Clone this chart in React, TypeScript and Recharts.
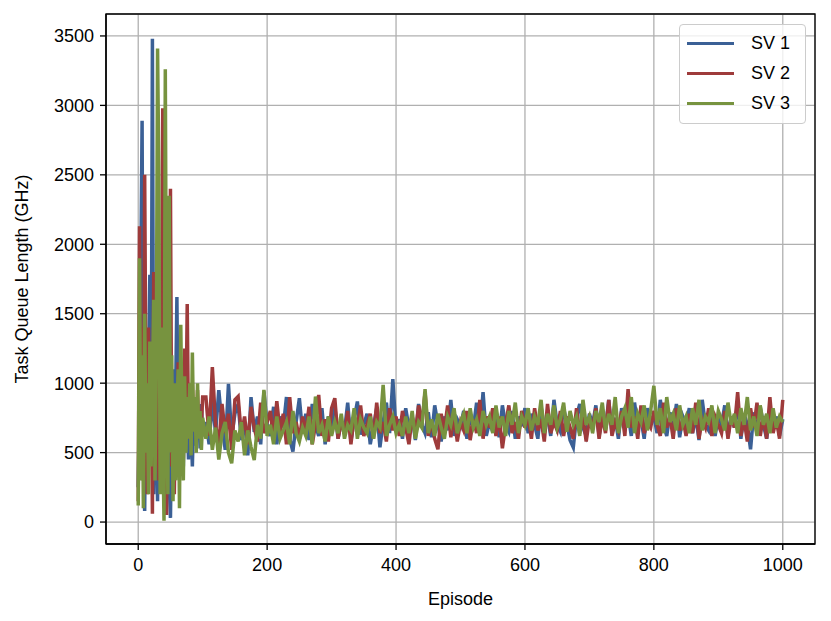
import { LineChart, Line, XAxis, YAxis, CartesianGrid, ReferenceArea } from 'recharts'

// episodes 0..100 sampled every 2, then 105..1000 every 5
const earlyEpisodes = Array.from({ length: 51 }, (_, i) => i * 2)
const lateEpisodes = Array.from({ length: 180 }, (_, i) => 105 + i * 5)
const episodes = [...earlyEpisodes, ...lateEpisodes]

const xTicks = [0, 200, 400, 600, 800, 1000]
const yTicks = [0, 500, 1000, 1500, 2000, 2500, 3000, 3500]

const sv1Early = [
  250, 900, 1800, 2890, 400, 80, 1200, 300, 1100, 1780,
  600, 3480, 200, 1500, 700, 150, 1300, 500, 900, 250,
  1200, 100, 800, 1300, 300, 30, 700, 1100, 400, 900,
  1620, 500, 1200, 350, 900, 400, 1100, 600, 850, 450,
  950, 700, 400, 800, 550, 900, 650, 780, 530, 850,
  620,
]
const sv2Early = [
  150, 2130, 600, 1400, 300, 2500, 900, 200, 1400, 500,
  1100, 60, 1800, 400, 1000, 2000, 300, 1500, 700, 2980,
  200, 1300, 50, 1700, 600, 2400, 400, 1000, 200, 900,
  500, 1150, 350, 800, 1000, 450, 1250, 700, 1570, 600,
  900, 550, 1000, 700, 850, 600, 950, 650, 800, 700,
  900,
]
const sv3Early = [
  120, 1900, 300, 1200, 100, 1500, 500, 1000, 200, 1300,
  400, 900, 1600, 300, 1100, 3410, 2500, 200, 1400, 600,
  10, 3260, 900, 200, 2350, 500, 1200, 150, 1000, 300,
  800, 1100, 100, 1420, 700, 300, 1050, 500, 900, 600,
  1000, 480, 1220, 650, 900, 500, 1000, 600, 800, 520,
  750,
]

const sv1Late = [
  720, 560, 880, 640, 950, 700, 520, 995, 610, 780,
  850, 590, 720, 480, 900, 650, 760, 560, 940, 700,
  620, 830, 560, 760, 680, 900, 600, 507, 720, 892,
  640, 780, 590, 850, 700, 620, 820, 560, 760, 680,
  830, 600, 720, 650, 860, 580, 740, 868, 630, 700,
  780, 560, 690, 820, 538, 720, 860, 640, 1029, 650,
  740, 600, 820, 680, 760, 590, 850, 700, 640, 790,
  610, 840, 700, 580, 760, 660, 880, 620, 740, 690,
  800, 600, 760, 680, 860, 640, 935, 620, 720, 650,
  780, 610, 840, 700, 650, 800, 600, 760, 690, 820,
  640, 780, 700, 600, 830, 680, 760, 620, 880, 700,
  650, 820, 710, 590, 538, 760, 850, 680, 620, 780,
  700, 840, 620, 760, 680, 880, 640, 750, 600, 820,
  700, 780, 620, 860, 690, 740, 600, 820, 710, 760,
  640, 880, 700, 620, 790, 680, 850, 610, 760, 700,
  820, 640, 760, 590, 880, 700, 660, 800, 620, 760,
  700, 840, 620, 760, 680, 860, 600, 780, 700, 524,
  790, 640, 830, 700, 600, 800, 680, 760, 620, 740,
]
const sv2Late = [
  900, 620, 1115, 700, 560, 850, 640, 780, 520, 880,
  904, 620, 760, 560, 830, 680, 580, 860, 640, 720,
  800, 600, 870, 650, 780, 560, 899, 640, 720, 600,
  760, 640, 830, 560, 700, 916, 620, 740, 580, 820,
  892, 600, 720, 640, 800, 560, 760, 680, 840, 620,
  700, 780, 600, 860, 640, 720, 580, 820, 660, 760,
  620, 800, 680, 560, 760, 640, 840, 700, 935, 620,
  720, 600, 524, 780, 660, 840, 610, 760, 580, 720,
  660, 800, 590, 740, 640, 880, 600, 760, 680, 820,
  620, 760, 531, 700, 840, 640, 720, 600, 800, 680,
  760, 600, 820, 660, 740, 580, 850, 640, 720, 660,
  800, 620, 760, 680, 600, 820, 640, 760, 580, 740,
  680, 820, 600, 760, 640, 880, 620, 720, 660, 800,
  620, 957, 680, 760, 600, 840, 640, 720, 680, 800,
  700, 620, 860, 680, 760, 600, 820, 660, 740, 620,
  780, 640, 860, 600, 740, 680, 820, 620, 760, 700,
  640, 800, 600, 760, 680, 935, 620, 740, 580, 820,
  680, 860, 620, 760, 600, 900, 640, 740, 600, 880,
]
const sv3Late = [
  600, 760, 520, 680, 450, 640, 720, 500, 423, 660,
  580, 720, 480, 660, 540, 447, 700, 600, 952, 620,
  700, 560, 760, 600, 660, 720, 560, 800, 640, 580,
  680, 620, 760, 560, 904, 640, 700, 580, 760, 620,
  720, 640, 780, 600, 700, 660, 820, 600, 740, 680,
  640, 760, 600, 720, 680, 988, 620, 700, 760, 640,
  700, 620, 760, 640, 800, 600, 720, 680, 957, 640,
  740, 620, 780, 680, 600, 760, 700, 820, 640, 720,
  780, 640, 820, 680, 740, 620, 800, 700, 760, 640,
  840, 680, 760, 620, 800, 700, 860, 640, 760, 700,
  820, 660, 760, 700, 880, 640, 780, 700, 840, 680,
  740, 860, 650, 800, 700, 760, 620, 880, 700, 760,
  640, 800, 720, 860, 660, 780, 700, 900, 640, 760,
  820, 680, 900, 640, 780, 720, 840, 660, 800, 981,
  700, 820, 640, 900, 720, 780, 660, 840, 700, 760,
  640, 820, 700, 880, 660, 760, 720, 840, 640, 800,
  740, 660, 860, 700, 780, 640, 820, 700, 900, 660,
  760, 620, 840, 700, 780, 640, 820, 680, 760, 720,
]

const sv1 = [...sv1Early, ...sv1Late]
const sv2 = [...sv2Early, ...sv2Late]
const sv3 = [...sv3Early, ...sv3Late]

const series = [
  { key: 'sv1', name: 'SV 1', color: '#3b6096' },
  { key: 'sv2', name: 'SV 2', color: '#9e3b3b' },
  { key: 'sv3', name: 'SV 3', color: '#77933f' },
]

const data = episodes.map((episode, i) => ({
  episode,
  sv1: sv1[i],
  sv2: sv2[i],
  sv3: sv3[i],
}))

const FONT = '"Liberation Sans", Arial, sans-serif'
const X_DOMAIN = [-50, 1050]
const Y_DOMAIN = [-158, 3658]

// legend drawn as a plain overlay so it doesn't eat chart space
const LegendBox = () => (
  <div
    style={{
      position: 'absolute',
      left: 679,
      top: 24,
      width: 127,
      height: 100,
      border: '1px solid #cccccc',
      borderRadius: 4,
      background: 'rgba(255,255,255,0.8)',
      boxSizing: 'border-box',
      padding: '3px 0 0 7px',
      fontFamily: FONT,
      fontSize: 18,
      color: '#000',
    }}
  >
    {series.map((s) => (
      <div key={s.key} style={{ display: 'flex', alignItems: 'center', height: 30 }}>
        <span style={{ display: 'inline-block', width: 47, height: 3, background: s.color, marginRight: 17 }} />
        <span>{s.name}</span>
      </div>
    ))}
  </div>
)

const YLabel = ({ viewBox }: any) => {
  const cx = viewBox.x + 22
  const cy = viewBox.y + viewBox.height / 2
  return (
    <text
      x={cx}
      y={cy}
      transform={`rotate(-90 ${cx} ${cy})`}
      textAnchor="middle"
      dominantBaseline="central"
      fontFamily={FONT}
      fontSize={18}
      fill="#000"
    >
      Task Queue Length (GHz)
    </text>
  )
}

export default function App() {
  return (
    <div style={{ position: 'absolute', left: 0, top: 0, width: 831, height: 621, background: '#fff' }}>
      <LineChart width={831} height={621} data={data} margin={{ top: 14, right: 16, bottom: 0, left: 0 }}>
        <CartesianGrid stroke="#b0b0b0" strokeWidth={1.3} />
        <XAxis
          dataKey="episode"
          type="number"
          domain={X_DOMAIN}
          ticks={xTicks}
          allowDataOverflow
          height={77}
          tickSize={6}
          tickMargin={8}
          axisLine={{ stroke: '#000', strokeWidth: 1.3 }}
          tickLine={{ stroke: '#000', strokeWidth: 1.3 }}
          tick={{ fill: '#000', fontSize: 18, fontFamily: FONT }}
          label={{ value: 'Episode', position: 'insideBottom', offset: 16, fill: '#000', fontSize: 18, fontFamily: FONT }}
        />
        <YAxis
          type="number"
          domain={Y_DOMAIN}
          ticks={yTicks}
          allowDataOverflow
          width={106}
          tickSize={6}
          tickMargin={6}
          axisLine={{ stroke: '#000', strokeWidth: 1.3 }}
          tickLine={{ stroke: '#000', strokeWidth: 1.3 }}
          tick={{ fill: '#000', fontSize: 18, fontFamily: FONT }}
          label={<YLabel />}
        />
        {series.map((s) => (
          <Line
            key={s.key}
            type="linear"
            dataKey={s.key}
            name={s.name}
            stroke={s.color}
            strokeWidth={3.5}
            dot={false}
            isAnimationActive={false}
          />
        ))}
        <ReferenceArea
          x1={X_DOMAIN[0]}
          x2={X_DOMAIN[1]}
          y1={Y_DOMAIN[0]}
          y2={Y_DOMAIN[1]}
          fill="none"
          stroke="#000"
          strokeWidth={1.3}
          ifOverflow="visible"
        />
      </LineChart>
      <LegendBox />
    </div>
  )
}
